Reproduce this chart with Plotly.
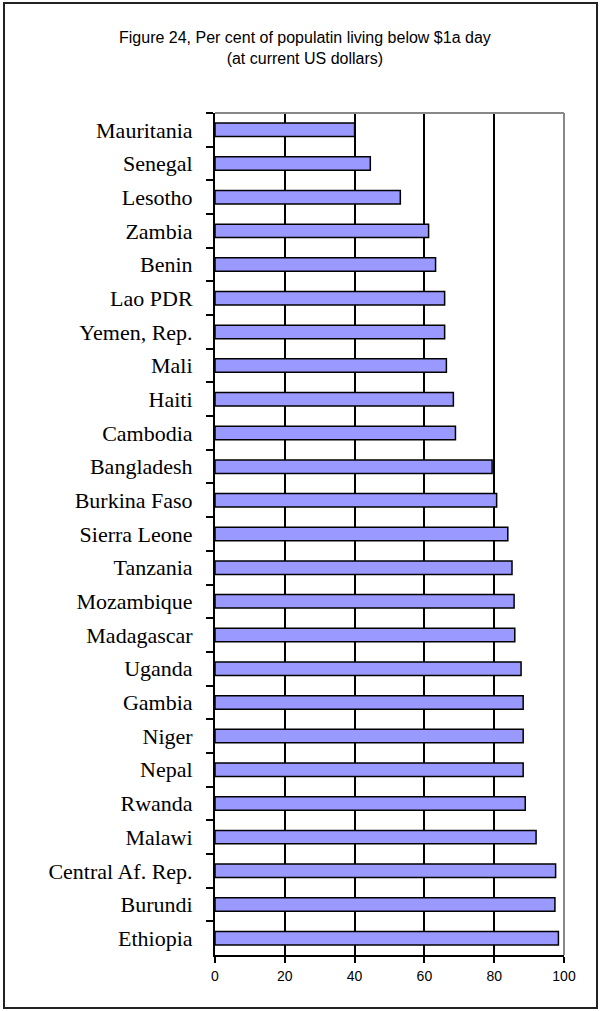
import plotly.graph_objects as go

countries = ["Mauritania", "Senegal", "Lesotho", "Zambia", "Benin", "Lao PDR",
             "Yemen, Rep.", "Mali", "Haiti", "Cambodia", "Bangladesh",
             "Burkina Faso", "Sierra Leone", "Tanzania", "Mozambique",
             "Madagascar", "Uganda", "Gambia", "Niger", "Nepal", "Rwanda",
             "Malawi", "Central Af. Rep.", "Burundi", "Ethiopia"]
pct_below_1 = [40.0, 44.5, 53.1, 61.2, 63.2, 65.8, 65.8, 66.3, 68.3, 68.9, 79.4,
               80.7, 83.9, 85.1, 85.7, 85.9, 87.7, 88.3, 88.3, 88.3, 88.9,
               92.0, 97.6, 97.4, 98.4]
x_ticks = [0, 20, 40, 60, 80, 100]

fig = go.Figure()
fig.add_trace(go.Bar(x=pct_below_1, y=countries, orientation="h",
                     marker=dict(color="#9999FF", line=dict(color="black", width=1.5)),
                     showlegend=False))

# figure title (two lines)
fig.add_annotation(text="Figure 24, Per cent of populatin living below $1a day<br>(at current US dollars)",
                   xref="paper", yref="paper", x=0.258, y=1.0772,
                   xanchor="center", yanchor="middle", showarrow=False,
                   font=dict(family="Liberation Sans, Arial", size=16, color="black"))

# outer chart frame
fig.add_shape(type="rect", xref="paper", yref="paper", x0=-0.6046, x1=1.0946,
              y0=-0.0629, y1=1.1306, line=dict(color="#222", width=2))
# grey top and right plot border
fig.add_shape(type="line", xref="paper", yref="paper", x0=0, x1=1, y0=1, y1=1,
              line=dict(color="#888", width=2))
fig.add_shape(type="line", xref="paper", yref="paper", x0=1, x1=1, y0=0, y1=1,
              line=dict(color="#888", width=2))

fig.update_xaxes(range=[0, 100], tickvals=x_ticks, showgrid=True, gridcolor="black",
                 gridwidth=2, zeroline=False, showline=True, linecolor="black", linewidth=2,
                 ticks="outside", ticklen=6, tickwidth=2, tickcolor="black",
                 ticklabelstandoff=1,
                 tickfont=dict(family="Liberation Sans, Arial", size=14, color="black"))
fig.update_yaxes(type="category", autorange="reversed", showgrid=False,
                 showline=True, linecolor="black", linewidth=2,
                 ticks="outside", tickson="boundaries", ticklen=7, tickwidth=2,
                 tickcolor="black", ticklabelstandoff=16,
                 tickfont=dict(family="Liberation Serif, Times New Roman", size=22, color="black"))

fig.update_layout(width=600, height=1011, bargap=0.6,
                  margin=dict(l=215, r=36, t=113, b=56),
                  paper_bgcolor="white", plot_bgcolor="white")

# page has a default 8px body margin; drop it so the chart sits at the window origin
fig.write_html("out.html", config={"displayModeBar": False},
               post_script="document.body.style.margin='0';")
